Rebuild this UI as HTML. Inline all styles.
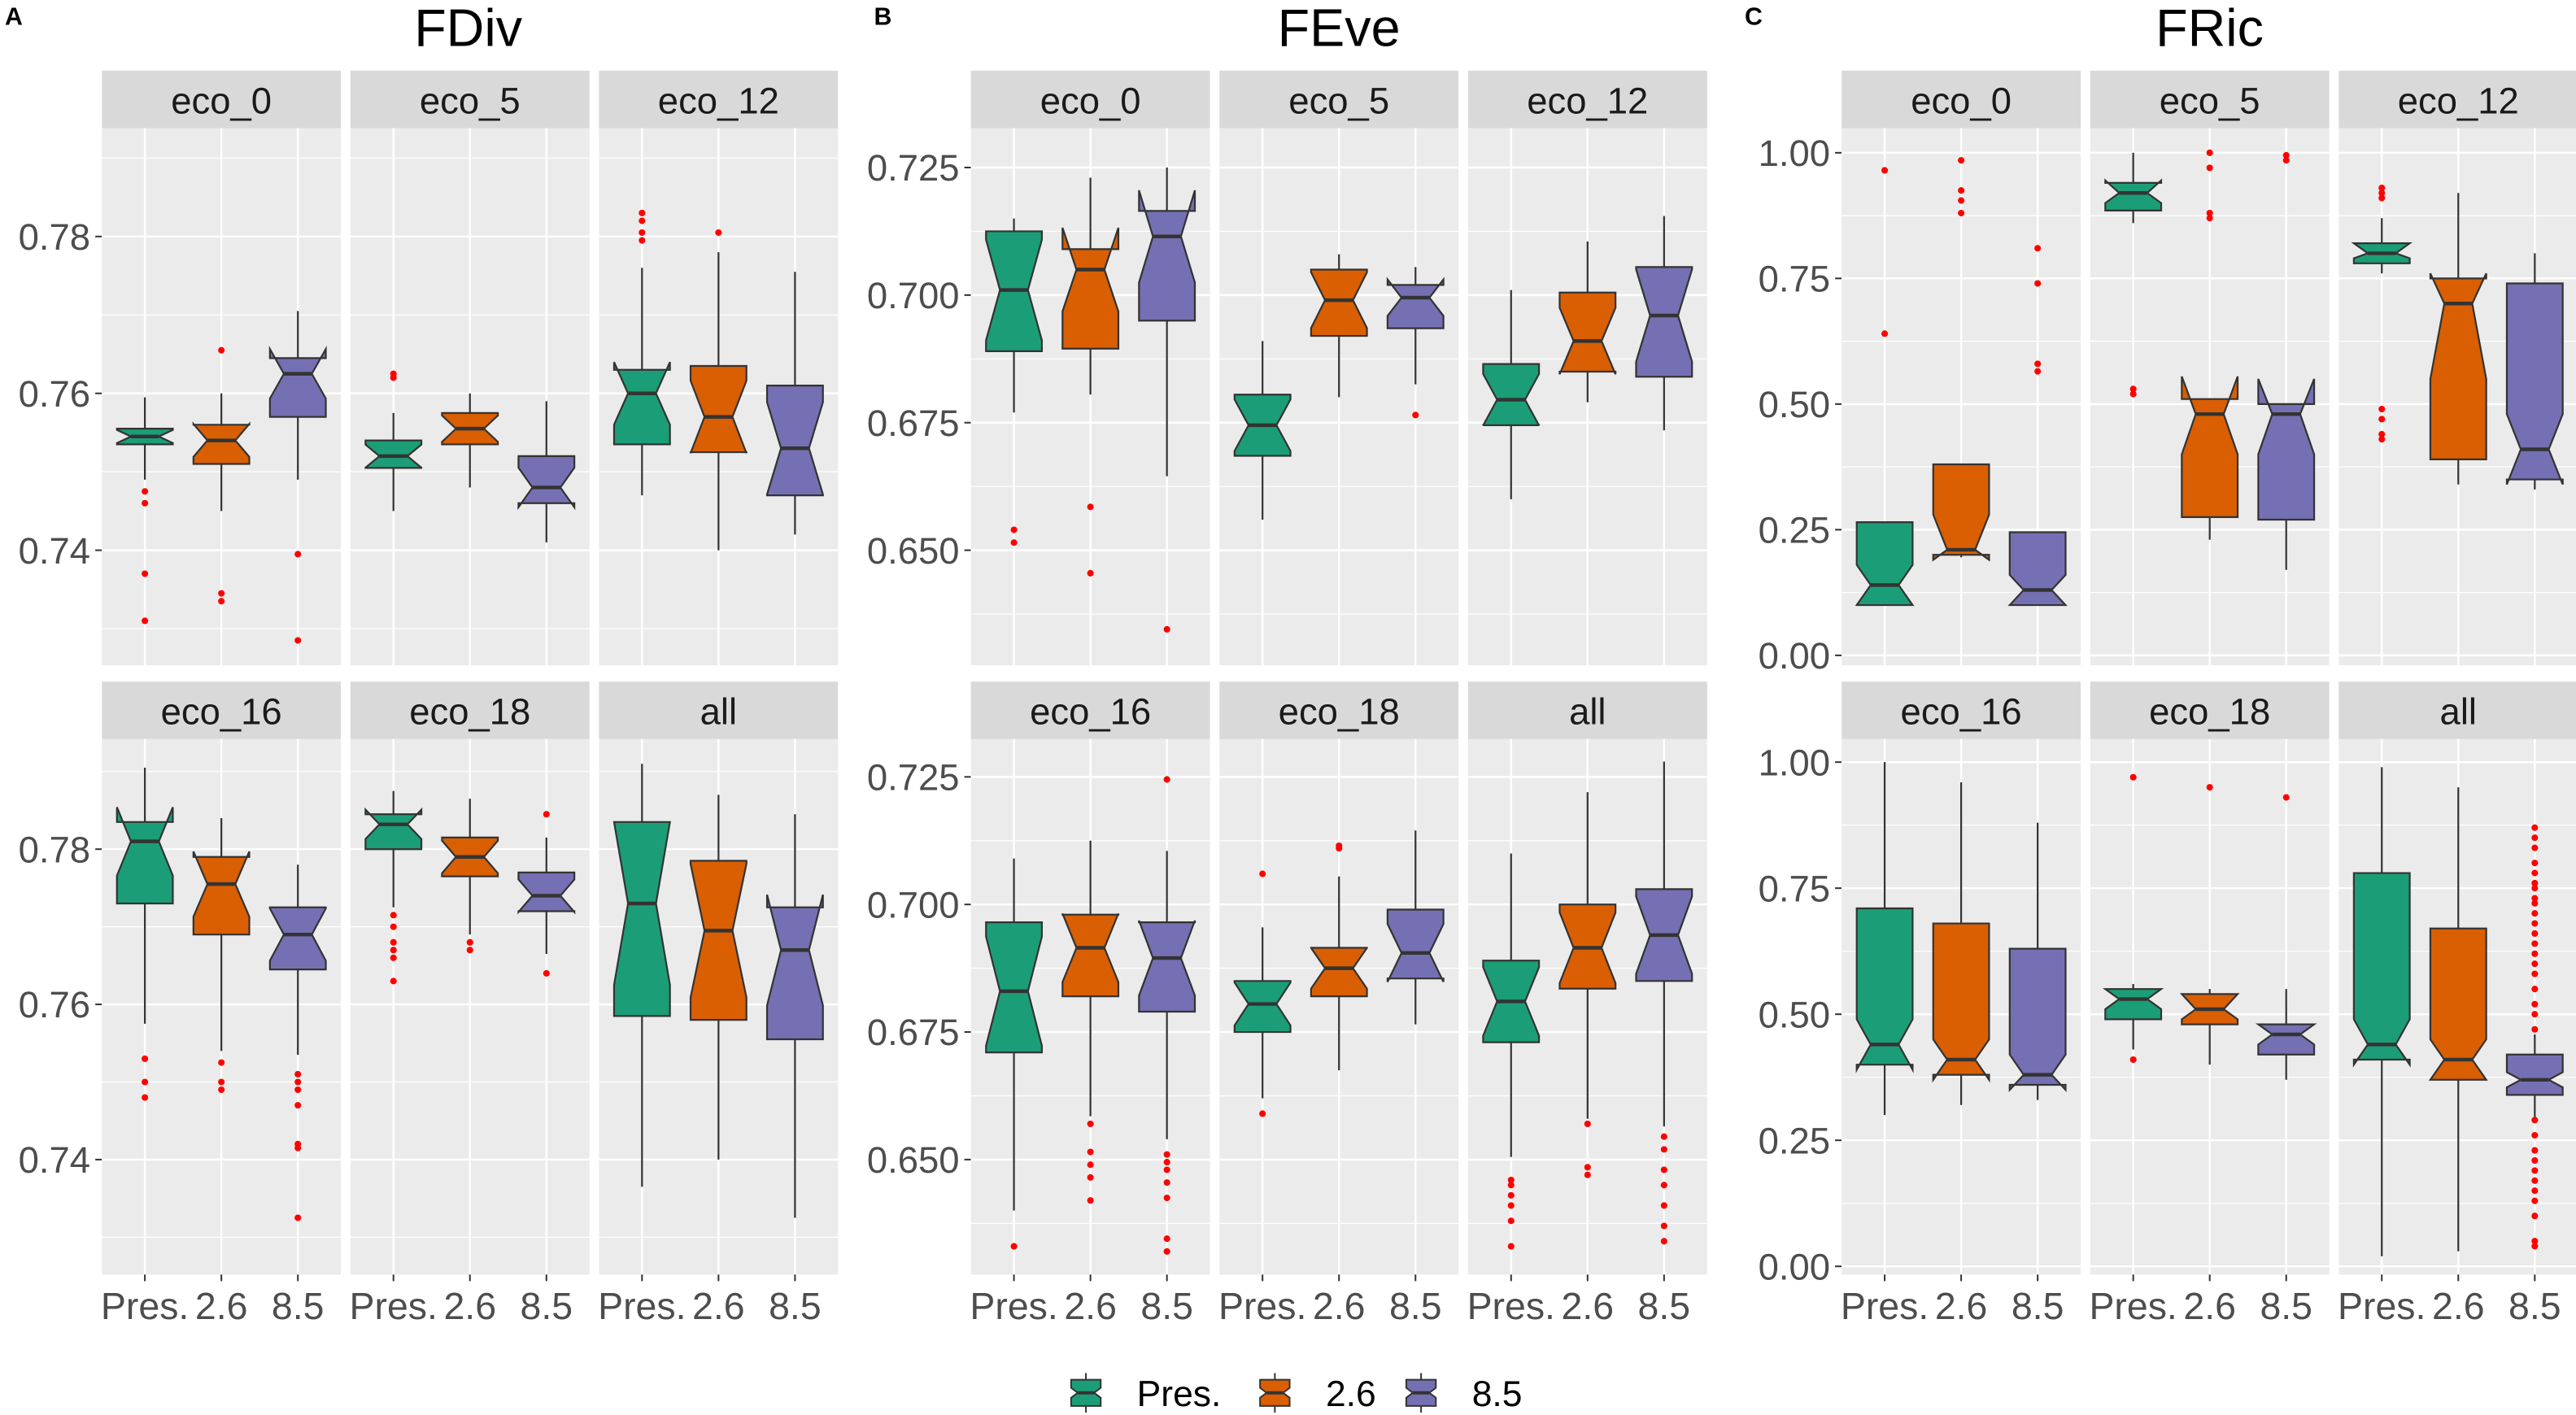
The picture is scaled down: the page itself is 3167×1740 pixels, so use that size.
<!DOCTYPE html>
<html><head><meta charset="utf-8"><style>
html,body{margin:0;padding:0;background:#fff;}
svg{display:block;font-family:"Liberation Sans",Arial,sans-serif;}
</style></head><body>
<svg id="chart" width="3167" height="1740" viewBox="0 0 1568 861.5" preserveAspectRatio="none" xmlns="http://www.w3.org/2000/svg"></svg>
<script>
// ---- data ----
const categories = ["Pres.", "2.6", "8.5"];
const colors = ["#1B9E77", "#D95F02", "#7570B3"];
const facets = ["eco_0", "eco_5", "eco_12", "eco_16", "eco_18", "all"];
const metrics = ["FDiv", "FEve", "FRic"];
const fdivTicks = [0.74, 0.76, 0.78];
const feveTicks = [0.650, 0.675, 0.700, 0.725];
const fricTicks = [0.00, 0.25, 0.50, 0.75, 1.00];
const fdivTickLabels = ["0.74", "0.76", "0.78"];
const feveTickLabels = ["0.650", "0.675", "0.700", "0.725"];
const fricTickLabels = ["0.00", "0.25", "0.50", "0.75", "1.00"];
// each box: [whiskLow, q1, median, q3, whiskHigh, outliers, notchLo?, notchHi?]
const fdivData = [
 [[0.749,0.7535,0.7545,0.7555,0.7595,[0.7475,0.746,0.737,0.731]],[0.745,0.751,0.754,0.756,0.760,[0.7655,0.7345,0.7335]],[0.749,0.757,0.7625,0.7645,0.7705,[0.7395,0.7285]]],
 [[0.745,0.7505,0.752,0.754,0.7575,[0.7625,0.762]],[0.748,0.7535,0.7555,0.7575,0.760,[]],[0.741,0.746,0.748,0.752,0.759,[]]],
 [[0.747,0.7535,0.760,0.763,0.776,[0.783,0.782,0.7805,0.7795]],[0.740,0.7525,0.757,0.7635,0.778,[0.7805]],[0.742,0.747,0.753,0.761,0.7755,[]]],
 [[0.7575,0.773,0.781,0.7835,0.7905,[0.753,0.750,0.748]],[0.754,0.769,0.7755,0.779,0.784,[0.7525,0.750,0.749]],[0.7535,0.7645,0.769,0.7725,0.778,[0.751,0.750,0.749,0.747,0.742,0.7415,0.7325]]],
 [[0.7725,0.780,0.7832,0.7845,0.7875,[0.7715,0.770,0.768,0.767,0.766,0.763]],[0.769,0.7765,0.779,0.7815,0.7865,[0.768,0.767]],[0.7665,0.772,0.774,0.777,0.7815,[0.7845,0.764]]],
 [[0.7365,0.7585,0.773,0.7835,0.791,[]],[0.740,0.758,0.7695,0.7785,0.787,[]],[0.7325,0.7555,0.767,0.7725,0.7845,[]]]
];
const feveData = [
 [[0.677,0.689,0.701,0.7125,0.715,[0.654,0.6515]],[0.6805,0.6895,0.705,0.709,0.723,[0.6585,0.6455]],[0.6645,0.695,0.7115,0.7165,0.725,[0.6345]]],
 [[0.656,0.6685,0.6745,0.6805,0.691,[]],[0.680,0.692,0.699,0.705,0.708,[]],[0.6825,0.6935,0.6995,0.702,0.7055,[0.6765]]],
 [[0.660,0.6745,0.6795,0.6865,0.701,[]],[0.679,0.685,0.691,0.7005,0.7105,[]],[0.6735,0.684,0.696,0.7055,0.7155,[]]],
 [[0.640,0.671,0.683,0.6965,0.709,[0.633]],[0.6585,0.682,0.6915,0.698,0.7125,[0.657,0.6515,0.649,0.6465,0.642]],[0.654,0.679,0.6895,0.6965,0.7105,[0.7245,0.651,0.6495,0.648,0.6455,0.6425,0.6345,0.632]]],
 [[0.662,0.675,0.6805,0.685,0.6955,[0.706,0.659]],[0.6675,0.682,0.6875,0.6915,0.7055,[0.7115,0.711]],[0.6765,0.6855,0.6905,0.699,0.7145,[]]],
 [[0.6505,0.673,0.681,0.689,0.710,[0.646,0.645,0.643,0.641,0.638,0.633]],[0.658,0.6835,0.6915,0.700,0.722,[0.657,0.6485,0.647]],[0.6565,0.685,0.694,0.703,0.728,[0.6545,0.652,0.648,0.645,0.641,0.637,0.634]]]
];
const fricData = [
 [[0.10,0.10,0.14,0.265,0.265,[0.965,0.64],0.10,0.18],[0.195,0.20,0.21,0.38,0.38,[0.985,0.925,0.905,0.88],0.19,0.28],[0.10,0.10,0.13,0.245,0.245,[0.81,0.74,0.58,0.565],0.10,0.16]],
 [[0.86,0.885,0.92,0.94,1.0,[0.53,0.52],0.90,0.945],[0.23,0.275,0.48,0.51,0.51,[1.0,0.97,0.88,0.87],0.40,0.555],[0.17,0.27,0.48,0.50,0.50,[0.995,0.985],0.40,0.55]],
 [[0.76,0.78,0.80,0.82,0.87,[0.93,0.92,0.91,0.49,0.47,0.44,0.43],0.79,0.82],[0.34,0.39,0.70,0.75,0.92,[],0.55,0.76],[0.33,0.35,0.41,0.74,0.80,[],0.34,0.48]],
 [[0.30,0.40,0.44,0.71,1.0,[],0.39,0.49],[0.32,0.38,0.41,0.68,0.96,[],0.37,0.45],[0.33,0.36,0.38,0.63,0.88,[],0.35,0.42]],
 [[0.43,0.49,0.53,0.55,0.56,[0.97,0.41],0.51,0.55],[0.40,0.48,0.51,0.54,0.55,[0.95],0.49,0.54],[0.37,0.42,0.46,0.48,0.55,[0.93],0.44,0.48]],
 [[0.02,0.41,0.44,0.78,0.99,[],0.40,0.49],[0.03,0.37,0.41,0.67,0.95,[],0.37,0.45],[0.29,0.34,0.37,0.42,0.46,[0.87,0.85,0.83,0.80,0.78,0.76,0.75,0.73,0.72,0.70,0.68,0.66,0.64,0.62,0.60,0.58,0.55,0.52,0.50,0.47,0.29,0.26,0.23,0.21,0.19,0.17,0.15,0.13,0.10,0.05,0.04],0.355,0.385]]
];

// ---- layout ----
const NS = "http://www.w3.org/2000/svg";
const svg = document.getElementById("chart");
function el(tag, attrs, parent){const e=document.createElementNS(NS,tag);for(const k in attrs)e.setAttribute(k,attrs[k]);(parent||svg).appendChild(e);return e;}
const groupX = [62, 591, 1121];
const facetW = 145.5, facetGap = 5.8;
const rowTop = [[43,78,405],[415,450,776]];
const yAnchors = [
 [[0.78,144,0.74,335],[0.78,517,0.74,706]],
 [[0.725,102,0.650,335],[0.725,473,0.650,706]],
 [[1.0,93,0.0,399],[1.0,464,0.0,771]]
];
const allData=[fdivData,feveData,fricData];
const allTicks=[fdivTicks,feveTicks,fricTicks];
const allTickLabels=[fdivTickLabels,feveTickLabels,fricTickLabels];
const panelLabels=["A","B","C"];
const titleX=[285,815,1345];

function yScale(m,row){const a=yAnchors[m][row];return v=>a[1]+(v-a[0])*(a[3]-a[1])/(a[2]-a[0]);}
function xScale(x0){return i=>x0+facetW*0.18+i*facetW*0.32;}

for(let m=0;m<3;m++){
  const g=el("g",{});
  
  
  const t=el("text",{x:titleX[m],y:28,"text-anchor":"middle","font-size":32,fill:"#000"},g);
  t.textContent=metrics[m];
  
  
  const pl=el("text",{x:groupX[m]-59,y:15,"font-size":15,"font-weight":"bold",fill:"#000"},g);
  pl.textContent=panelLabels[m];
  
  
  for(let row=0;row<2;row++){
    const [st,pt,pb]=rowTop[row];
    const ys=yScale(m,row);
    const ticks=allTicks[m];
    ticks.forEach((tv,ti)=>{
      const y=ys(tv);
      const tl=el("text",{x:groupX[m]-7,y:y+8,"text-anchor":"end","font-size":22.5,fill:"#4d4d4d"},g);
      tl.textContent=allTickLabels[m][ti];
      
      
      el("line",{x1:groupX[m]-4,x2:groupX[m],y1:y,y2:y,stroke:"#333","stroke-width":1},g);
    });
    for(let c=0;c<3;c++){
      const fi=row*3+c;
      const x0=groupX[m]+c*(facetW+facetGap);
      const xs=xScale(x0);
      const fg=el("g",{},g);
      
      
      const strip=el("rect",{x:x0,y:st,width:facetW,height:pt-st,fill:"#D9D9D9"},fg);
      
      
      const stt=el("text",{x:x0+facetW/2,y:st+26,"text-anchor":"middle","font-size":22.5,fill:"#1a1a1a"},fg);
      stt.textContent=facets[fi];
      
      
      const bg=el("rect",{x:x0,y:pt,width:facetW,height:pb-pt,fill:"#EBEBEB"},fg);
      
      
      for(let k=0;k<ticks.length-1;k++){const y=ys((ticks[k]+ticks[k+1])/2);if(y>pt&&y<pb)el("line",{x1:x0,x2:x0+facetW,y1:y,y2:y,stroke:"#fff","stroke-width":0.6},fg);}
      {const step=ticks[1]-ticks[0];[ticks[0]-step/2,ticks[ticks.length-1]+step/2].forEach(v=>{const y=ys(v);if(y>pt&&y<pb)el("line",{x1:x0,x2:x0+facetW,y1:y,y2:y,stroke:"#fff","stroke-width":0.6},fg);});}
      ticks.forEach(tv=>{const y=ys(tv);el("line",{x1:x0,x2:x0+facetW,y1:y,y2:y,stroke:"#fff","stroke-width":1.2},fg);});
      for(let k=0;k<3;k++)el("line",{x1:xs(k),x2:xs(k),y1:pt,y2:pb,stroke:"#fff","stroke-width":1.2},fg);
      const data=allData[m][fi];
      for(let k=0;k<3;k++){
        const d=data[k];
        const [wl,q1,md,q3,wh,outs]=d;
        const iqr=q3-q1;
        const nlo=d.length>6?d[6]:md-0.42*iqr;
        const nhi=d.length>7?d[7]:md+0.42*iqr;
        const cx=xs(k),hw=17,nw=8.5;
        const bgp=el("g",{},fg);
        
        
        el("line",{x1:cx,x2:cx,y1:ys(wh),y2:ys(q3),stroke:"#333","stroke-width":1.1},bgp);
        el("line",{x1:cx,x2:cx,y1:ys(q1),y2:ys(wl),stroke:"#333","stroke-width":1.1},bgp);
        const pts=[[cx-hw,ys(q1)],[cx-hw,ys(nlo)],[cx-nw,ys(md)],[cx-hw,ys(nhi)],[cx-hw,ys(q3)],[cx+hw,ys(q3)],[cx+hw,ys(nhi)],[cx+nw,ys(md)],[cx+hw,ys(nlo)],[cx+hw,ys(q1)]];
        el("polygon",{points:pts.map(p=>p.join(",")).join(" "),fill:colors[k],stroke:"#333","stroke-width":1.1,"stroke-linejoin":"miter"},bgp);
        el("line",{x1:cx-nw,x2:cx+nw,y1:ys(md),y2:ys(md),stroke:"#333","stroke-width":2.2},bgp);
        outs.forEach(o=>{el("circle",{cx:cx,cy:ys(o),r:2,fill:"#FF0000"},bgp);});
      }
      if(row===1){
        for(let k=0;k<3;k++){
          el("line",{x1:xs(k),x2:xs(k),y1:pb,y2:pb+4,stroke:"#333","stroke-width":1},fg);
          const xl=el("text",{x:xs(k),y:pb+27,"text-anchor":"middle","font-size":23,fill:"#4d4d4d"},fg);
          xl.textContent=categories[k];
          
          
        }
      }
    }
  }
}
const legend=el("g",{});


const legX=[650,765,854];
categories.forEach((c,k)=>{
  const eg=el("g",{},legend);
  
  
  const x=legX[k],y=848;
  el("line",{x1:x+11,x2:x+11,y1:y-12,y2:y+12,stroke:"#333","stroke-width":1},eg);
  const pts=[[x+2,y+8],[x+2,y+3],[x+6,y],[x+2,y-3],[x+2,y-8],[x+20,y-8],[x+20,y-3],[x+16,y],[x+20,y+3],[x+20,y+8]];
  el("polygon",{points:pts.map(p=>p.join(",")).join(" "),fill:colors[k],stroke:"#333","stroke-width":1},eg);
  el("line",{x1:x+6,x2:x+16,y1:y,y2:y,stroke:"#333","stroke-width":2},eg);
  const lt=el("text",{x:x+42,y:y+8,"font-size":22,fill:"#000"},eg);
  lt.textContent=c;
});
</script>
</body></html>
